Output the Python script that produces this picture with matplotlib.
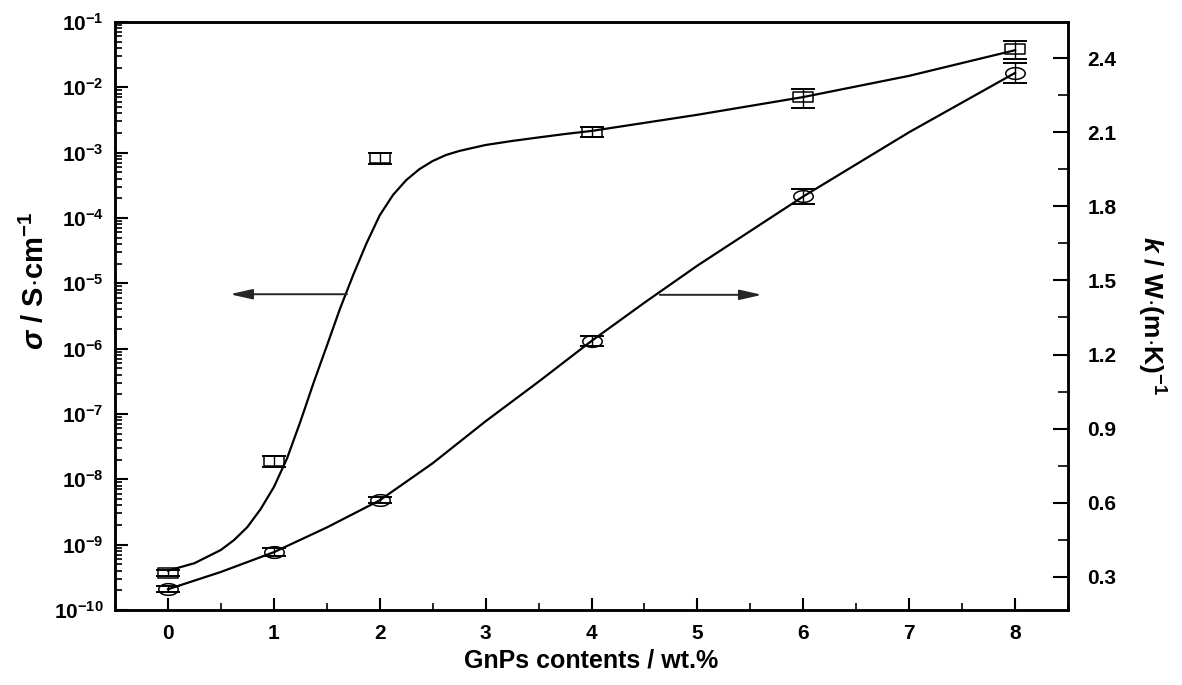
"""
GnPs content vs electrical conductivity (left, log) and thermal conductivity (right)
"""

import numpy as np
import matplotlib
matplotlib.use("Agg")
import matplotlib.pyplot as plt
from matplotlib.path import Path
from matplotlib.ticker import MultipleLocator, LogLocator, FixedLocator, NullFormatter

plt.rcParams["font.family"] = ["Liberation Sans", "DejaVu Sans"]
plt.rcParams["font.weight"] = "bold"
plt.rcParams["axes.labelweight"] = "bold"
plt.rcParams["mathtext.fontset"] = "custom"
plt.rcParams["mathtext.rm"] = "Liberation Sans:bold"
plt.rcParams["mathtext.bf"] = "Liberation Sans:bold"
plt.rcParams["mathtext.it"] = "Liberation Sans:bold:italic"
plt.rcParams["mathtext.default"] = "bf"

# -----------------------------
# Data
# -----------------------------

gnp = [0, 1, 2, 4, 6, 8]

# electrical conductivity, S/cm
sigma = [3.7e-10, 1.9e-8, 8.3e-4, 2.1e-3, 7.1e-3, 3.9e-2]
sigma_err = [0.4e-10, 0.35e-8, 1.6e-4, 0.35e-3, 2.2e-3, 1.2e-2]

# thermal conductivity, W/(m K)
kappa = [0.25, 0.40, 0.61, 1.255, 1.84, 2.34]
kappa_err = [0.012, 0.015, 0.012, 0.022, 0.03, 0.04]

# fitted curves
sigma_fit_x = [0, 0.25, 0.5, 0.625, 0.75, 0.875, 1.0, 1.125, 1.25, 1.375, 1.5, 1.625,
               1.75, 1.875, 2.0, 2.125, 2.25, 2.375, 2.5, 2.625, 2.75, 2.875, 3.0,
               3.25, 3.5, 3.75, 4.0, 5.0, 6.0, 7.0, 8.0]
sigma_fit_y = [4.0e-10, 5.2e-10, 8.3e-10, 1.18e-9, 1.86e-9, 3.5e-9, 7.6e-9, 2.1e-8,
               7.6e-8, 3.0e-7, 1.1e-6, 4.1e-6, 1.35e-5, 4.1e-5, 1.1e-4, 2.25e-4,
               3.8e-4, 5.6e-4, 7.45e-4, 9.2e-4, 1.06e-3, 1.18e-3, 1.31e-3, 1.51e-3,
               1.71e-3, 1.93e-3, 2.15e-3, 3.8e-3, 7.1e-3, 1.5e-2, 3.7e-2]

kappa_fit_x = [0, 0.5, 1, 1.5, 2, 2.5, 3, 3.5, 4, 4.5, 5, 5.5, 6, 6.5, 7, 7.5, 8]
kappa_fit_y = [0.25, 0.32, 0.40, 0.50, 0.61, 0.76, 0.93, 1.09, 1.255, 1.41, 1.56,
               1.70, 1.84, 1.97, 2.10, 2.22, 2.34]

# -----------------------------
# Markers (stretched, like the original picture)
# -----------------------------

sq = 0.55
square_marker = Path([(-1, -sq), (1, -sq), (1, sq), (-1, sq), (-1, -sq)],
                     [Path.MOVETO, Path.LINETO, Path.LINETO, Path.LINETO, Path.CLOSEPOLY])
t = np.linspace(0, 2 * np.pi, 60)
ellipse_marker = Path(np.column_stack([np.cos(t), 0.6 * np.sin(t)]))

# -----------------------------
# Plot
# -----------------------------

fig = plt.figure(figsize=(11.82, 6.85), dpi=100)
ax = fig.add_axes([0.0973, 0.1095, 0.8063, 0.8584])
ax2 = ax.twinx()

ax.set_yscale("log")
ax.set_xlim(-0.5, 8.5)
ax.set_ylim(1e-10, 1e-1)
ax2.set_ylim(0.166, 2.546)

# conductivity
ax.plot(sigma_fit_x, sigma_fit_y, color="black", lw=1.6, zorder=2)
ax.errorbar(gnp, sigma, yerr=sigma_err, fmt="none", ecolor="black",
            elinewidth=1.0, capsize=8.5, capthick=1.4, zorder=3)
ax.plot(gnp, sigma, linestyle="none", marker=square_marker, markersize=14,
        mfc="none", mec="black", mew=1.1, zorder=4)

# thermal conductivity
ax2.plot(kappa_fit_x, kappa_fit_y, color="black", lw=1.6, zorder=2)
ax2.errorbar(gnp, kappa, yerr=kappa_err, fmt="none", ecolor="black",
             elinewidth=1.0, capsize=8.5, capthick=1.4, zorder=3)
ax2.plot(gnp, kappa, linestyle="none", marker=ellipse_marker, markersize=14,
         mfc="none", mec="black", mew=1.1, zorder=4)

# arrows
arrow_kw = dict(arrowstyle="-|>,head_length=0.75,head_width=0.17", color="0.15",
                lw=1.4, mutation_scale=18, shrinkA=0, shrinkB=0)
ax.annotate("", xy=(0.585, 0.537), xytext=(1.69, 0.537),
            xycoords=("data", "axes fraction"), textcoords=("data", "axes fraction"),
            arrowprops=arrow_kw)
ax.annotate("", xy=(5.61, 0.536), xytext=(4.645, 0.536),
            xycoords=("data", "axes fraction"), textcoords=("data", "axes fraction"),
            arrowprops=arrow_kw)

# ticks
ax.xaxis.set_major_locator(MultipleLocator(1))
ax.xaxis.set_minor_locator(MultipleLocator(0.5))
ax.yaxis.set_major_locator(LogLocator(base=10, numticks=20))
ax.yaxis.set_minor_locator(LogLocator(base=10, subs=np.arange(2, 10), numticks=20))
ax.yaxis.set_minor_formatter(NullFormatter())
dec = np.arange(-10, 0)
ax.set_yticks([10.0 ** d for d in dec])
ax.set_yticklabels([r"$\mathbf{10^{%d}}$" % d for d in dec])

ax2.yaxis.set_major_locator(FixedLocator([0.3, 0.6, 0.9, 1.2, 1.5, 1.8, 2.1, 2.4]))
ax2.yaxis.set_minor_locator(MultipleLocator(0.15))
ax2.set_yticklabels(["0.3", "0.6", "0.9", "1.2", "1.5", "1.8", "2.1", "2.4"])

ax.tick_params(axis="both", which="major", direction="in", length=9, width=1.5,
               labelsize=15, top=False, right=False, pad=8)
ax.tick_params(axis="both", which="minor", direction="in", length=5, width=1.2,
               top=False, right=False)
ax.tick_params(axis="x", which="major", pad=10)
ax2.tick_params(axis="y", which="major", direction="in", length=11, width=1.5,
                labelsize=15, pad=14)
ax2.tick_params(axis="y", which="minor", direction="in", length=7, width=1.2)

for a in (ax, ax2):
    for s in a.spines.values():
        s.set_linewidth(1.8)

ax.set_xlabel("GnPs contents / wt.%", fontsize=18, fontweight="bold", labelpad=4)
ax.set_ylabel(r"$\it{\sigma}$ / S$\cdot$cm$^{\mathbf{-1}}$", fontsize=21,
              fontweight="bold")
ax.yaxis.set_label_coords(-0.068, 0.56)
ax2.set_ylabel(r"$\it{k}$ / W$\cdot$(m$\cdot$K)$^{\mathbf{-1}}$", fontsize=19,
               fontweight="bold", rotation=270, labelpad=26)
ax2.yaxis.set_label_coords(1.104, 0.5)

fig.savefig("out.png", dpi=100)
